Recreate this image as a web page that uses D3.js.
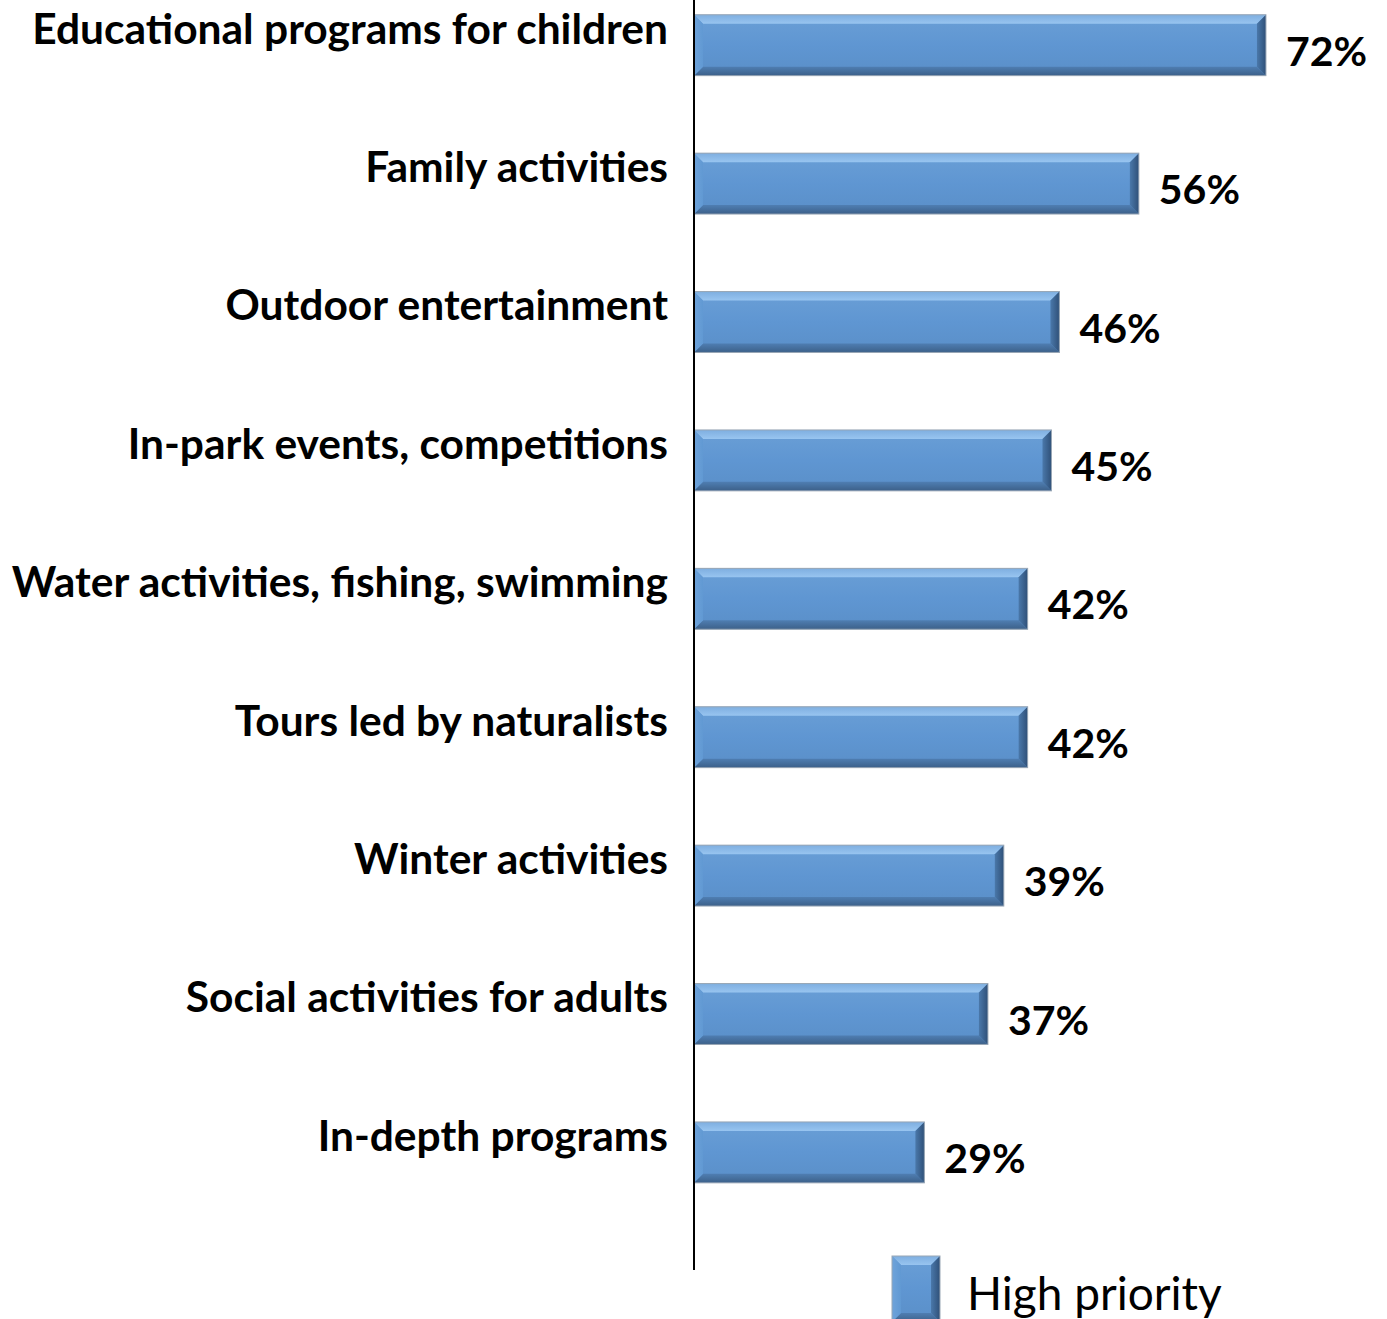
<!DOCTYPE html>
<html>
<head>
<meta charset="utf-8">
<script src="https://cdn.jsdelivr.net/npm/d3@7"></script>
<style>
  html, body { margin: 0; padding: 0; background: #fff; }
  svg { display: block; }
</style>
</head>
<body>
<svg id="chart" width="1387" height="1319"></svg>
<script>
// Survey results: share of respondents rating each program type a high priority
const categories = [
  "Educational programs for children",
  "Family activities",
  "Outdoor entertainment",
  "In-park events, competitions",
  "Water activities, fishing, swimming",
  "Tours led by naturalists",
  "Winter activities",
  "Social activities for adults",
  "In-depth programs"
];
const values = [72, 56, 46, 45, 42, 42, 39, 37, 29];
const seriesName = "High priority";

const svg = d3.select("#chart");

const x0 = 694;
const x = d3.scaleLinear().domain([0, 80]).range([x0, x0 + 635.5]);
const y = d3.scaleBand().domain(categories).range([-24, 1221.6]).paddingInner(0.56).paddingOuter(0.28);

const fontFam = "Lato, 'Open Sans', sans-serif";

const defs = svg.append("defs");
// soft vertical shading for the bar face
const g1 = defs.append("linearGradient").attr("id", "face").attr("x1", 0).attr("x2", 0).attr("y1", 0).attr("y2", 1);
g1.append("stop").attr("offset", "0%").attr("stop-color", "#6a9fd6");
g1.append("stop").attr("offset", "50%").attr("stop-color", "#5f96d2");
g1.append("stop").attr("offset", "100%").attr("stop-color", "#5a8fc8");
const gTop = defs.append("linearGradient").attr("id", "bevTop").attr("x1", 0).attr("x2", 0).attr("y1", 0).attr("y2", 1);
gTop.append("stop").attr("offset", "0%").attr("stop-color", "#7eaee0");
gTop.append("stop").attr("offset", "100%").attr("stop-color", "#98c5f0");
const gBot = defs.append("linearGradient").attr("id", "bevBot").attr("x1", 0).attr("x2", 0).attr("y1", 0).attr("y2", 1);
gBot.append("stop").attr("offset", "0%").attr("stop-color", "#4f7eb2");
gBot.append("stop").attr("offset", "100%").attr("stop-color", "#3c6089");
const gRight = defs.append("linearGradient").attr("id", "bevRight").attr("x1", 0).attr("x2", 1).attr("y1", 0).attr("y2", 0);
gRight.append("stop").attr("offset", "0%").attr("stop-color", "#4a78aa");
gRight.append("stop").attr("offset", "100%").attr("stop-color", "#2f5078");
const gLeft = defs.append("linearGradient").attr("id", "bevLeft").attr("x1", 0).attr("x2", 1).attr("y1", 0).attr("y2", 0);
gLeft.append("stop").attr("offset", "0%").attr("stop-color", "#6ea3da");
gLeft.append("stop").attr("offset", "100%").attr("stop-color", "#6199d3");

// beveled box: face plus four edge facets
function bevelBox(g, bx, by, bw, bh, b) {
  g.append("rect").attr("x", bx).attr("y", by).attr("width", bw).attr("height", bh).attr("fill", "url(#face)");
  const pts = a => a.map(p => p.join(",")).join(" ");
  g.append("polygon").attr("points", pts([[bx, by], [bx + bw, by], [bx + bw - b, by + b], [bx + b, by + b]])).attr("fill", "url(#bevTop)");
  g.append("polygon").attr("points", pts([[bx, by + bh], [bx + b, by + bh - b], [bx + bw - b, by + bh - b], [bx + bw, by + bh]])).attr("fill", "url(#bevBot)");
  g.append("polygon").attr("points", pts([[bx, by], [bx + b, by + b], [bx + b, by + bh - b], [bx, by + bh]])).attr("fill", "url(#bevLeft)");
  g.append("polygon").attr("points", pts([[bx + bw, by], [bx + bw, by + bh], [bx + bw - b, by + bh - b], [bx + bw - b, by + b]])).attr("fill", "url(#bevRight)");
  g.append("rect").attr("x", bx).attr("y", by).attr("width", bw).attr("height", bh)
    .attr("fill", "none").attr("stroke", "#9aa7b5").attr("stroke-width", 1);
}

const bars = svg.append("g");
categories.forEach((c, i) => {
  const g = bars.append("g");
  bevelBox(g, x(0), y(c), x(values[i]) - x(0), y.bandwidth(), 9);
});

// value labels
svg.append("g").selectAll("text").data(values).join("text")
  .attr("x", d => x(d) + 20)
  .attr("y", (d, i) => y(categories[i]) + y.bandwidth() / 2 + 20.5)
  .attr("font-family", fontFam).attr("font-weight", 700).attr("font-size", 41)
  .attr("fill", "#000")
  .text(d => d + "%");

// category axis
const axis = d3.axisLeft(y).tickSize(0).tickPadding(26);
const ax = svg.append("g").attr("transform", `translate(${x0},0)`).call(axis);
ax.select(".domain").remove();
ax.selectAll("text")
  .attr("font-family", fontFam).attr("font-weight", 700).attr("font-size", 42.5)
  .attr("fill", "#000").attr("dy", "-0.04em");
svg.append("line").attr("x1", x0).attr("x2", x0).attr("y1", 0).attr("y2", 1270)
  .attr("stroke", "#000").attr("stroke-width", 2);

// legend
const lg = svg.append("g");
bevelBox(lg, 892, 1256, 48, 66, 9);
lg.append("text").attr("x", 967).attr("y", 1310)
  .attr("font-family", fontFam).attr("font-size", 46).attr("fill", "#000")
  .text(seriesName);
</script>
</body>
</html>
